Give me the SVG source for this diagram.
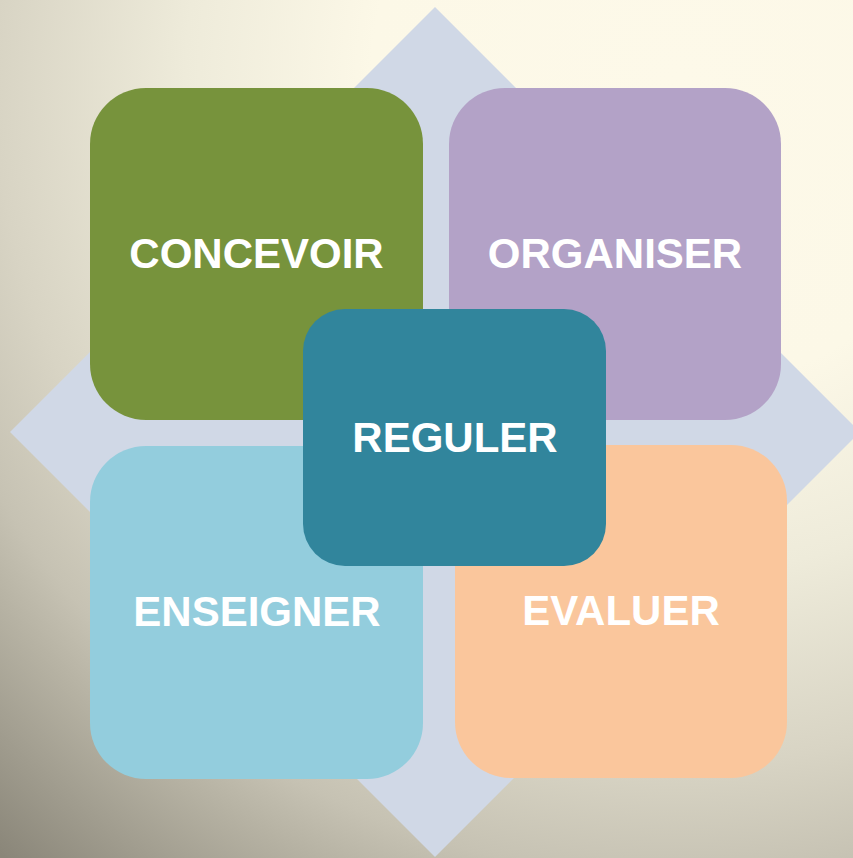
<svg xmlns="http://www.w3.org/2000/svg" width="853" height="858" viewBox="0 0 853 858">
<defs>
<radialGradient id="bg" gradientUnits="userSpaceOnUse" cx="680" cy="80" r="1030">
<stop offset="0" stop-color="#FDF9E9"/>
<stop offset="0.3" stop-color="#FCF8E7"/>
<stop offset="0.48" stop-color="#EEEBDA"/>
<stop offset="0.665" stop-color="#D8D4C4"/>
<stop offset="0.775" stop-color="#C6C2B3"/>
<stop offset="0.83" stop-color="#B7B3A4"/>
<stop offset="1" stop-color="#8A8679"/>
</radialGradient>
<style>
.lbl{font-family:"Liberation Sans",Arial,sans-serif;font-weight:bold;font-size:42px;fill:#FFFFFF;text-anchor:middle}
</style>
</defs>
<rect x="0" y="0" width="853" height="858" fill="url(#bg)"/>
<polygon id="diamond" points="435,7 860,432 435,857 10,432" fill="#D0D8E6"/>
<g id="concevoir">
<rect x="90" y="88" width="333" height="332" rx="56" fill="#77933C"/>
<text class="lbl" x="256.5" y="268">CONCEVOIR</text>
</g>
<g id="organiser">
<rect x="449" y="88" width="332" height="332" rx="56" fill="#B3A2C7"/>
<text class="lbl" x="615" y="268">ORGANISER</text>
</g>
<g id="enseigner">
<rect x="90" y="446" width="333" height="333" rx="56" fill="#93CDDD"/>
<text class="lbl" x="257" y="626">ENSEIGNER</text>
</g>
<g id="evaluer">
<rect x="455" y="445" width="332" height="333" rx="56" fill="#FAC69C"/>
<text class="lbl" x="621" y="625">EVALUER</text>
</g>
<g id="reguler">
<rect x="303" y="309" width="303" height="257" rx="42" fill="#31859C"/>
<text class="lbl" x="455" y="452">REGULER</text>
</g>
<g id="connectors"/>
</svg>
